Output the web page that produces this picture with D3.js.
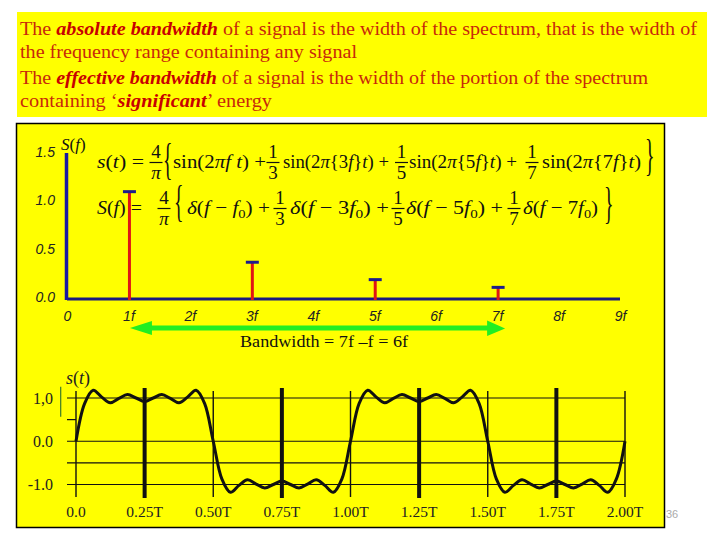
<!DOCTYPE html>
<html><head><meta charset="utf-8">
<script src="https://cdn.jsdelivr.net/npm/d3@7"></script>
<style>html,body{margin:0;padding:0;background:#fff;} svg{display:block}</style>
</head><body>
<script>
// ---------- data ----------
const topLines = [
  [["The ",0],["absolute bandwidth",1],[" of a signal is the width of the spectrum, that is the width of",0]],
  [["the frequency range containing any signal",0]],
  [["The ",0],["effective bandwidth",1],[" of a signal is the width of the portion of the spectrum",0]],
  [["containing \u2018",0],["significant",1],["\u2019 energy",0]]
];
const freqTicks = [0,1,2,3,4,5,6,7,8,9];
const freqTickLabels = ["0","1f","2f","3f","4f","5f","6f","7f","8f","9f"];
const ampTicks = [0, 0.5, 1.0, 1.5];
const harmonics = [1, 3, 5, 7];
const harmonicAmps = [1.10, 0.37, 0.19, 0.11];
const bandwidthLabel = "Bandwidth = 7f \u2013f = 6f";
const timeTicks = [0, 0.25, 0.5, 0.75, 1, 1.25, 1.5, 1.75, 2];
const timeTickLabels = ["0.0","0.25T","0.50T","0.75T","1.00T","1.25T","1.50T","1.75T","2.00T"];
const levelTicks = [-1, -0.5, 0, 0.5, 1];
const levelLabelVals = [1, 0, -1];
const levelLabels = ["1,0", "0.0", "-1.0"];
const signalStep = 1/32; // sample spacing in T
const signalVals = [
  0, 0.87, 1.18, 1.02, 0.89, 0.99, 1.08, 1.00, 0.92, 1.00, 1.08, 0.99, 0.89, 1.02, 1.18, 0.87,
  0, -0.87, -1.18, -1.02, -0.89, -0.99, -1.08, -1.00, -0.92, -1.00, -1.08, -0.99, -0.89, -1.02, -1.18, -0.87,
  0, 0.87, 1.18, 1.02, 0.89, 0.99, 1.08, 1.00, 0.92, 1.00, 1.08, 0.99, 0.89, 1.02, 1.18, 0.87,
  0, -0.87, -1.18, -1.02, -0.89, -0.99, -1.08, -1.00, -0.92, -1.00, -1.08, -0.99, -0.89, -1.02, -1.18, -0.87,
  0
];

// ---------- drawing ----------
const SERIF = "'Liberation Serif','Times New Roman',serif";
const SANS = "'Liberation Sans',Arial,sans-serif";
const svg = d3.select("body").append("svg").attr("width",720).attr("height",540);
svg.append("rect").attr("width",720).attr("height",540).attr("fill","#fff");

// top text box
svg.append("rect").attr("x",17).attr("y",12).attr("width",690).attr("height",105).attr("fill","#ffff00");
const lineBase = [35, 58, 83.5, 107];
const lineWidth = [677, 337, 628, 252];
topLines.forEach((segs,i)=>{
  const t = svg.append("text").attr("x",20).attr("y",lineBase[i])
    .attr("font-family",SERIF).attr("font-size",18.5)
    .attr("textLength",lineWidth[i]).attr("lengthAdjust","spacingAndGlyphs");
  segs.forEach(([s,b])=>{
    const ts = t.append("tspan").text(s);
    if(b){ ts.attr("font-style","italic").attr("font-weight","bold").attr("fill","#c80000"); }
    else ts.attr("fill","#c8280a");
  });
});

// main panel
svg.append("rect").attr("x",16.5).attr("y",123.5).attr("width",648).attr("height",404)
  .attr("fill","#ffff00").attr("stroke","#000").attr("stroke-width",1.5);

// ----- spectrum -----
const fx = d3.scaleLinear([0,9],[67,620]);
const fy = d3.scaleLinear([0,1.5],[298,153]);

const xAx = svg.append("g").attr("transform","translate(0,299)")
  .call(d3.axisBottom(fx).tickValues(freqTicks).tickFormat((d,i)=>freqTickLabels[i]).tickSize(0).tickPadding(12));
xAx.select(".domain").remove();
xAx.selectAll("text").attr("font-family",SANS).attr("font-style","italic").attr("font-size",14).attr("fill","#222");

const yAx = svg.append("g").attr("transform","translate(66,-1)")
  .call(d3.axisLeft(fy).tickValues(ampTicks).tickFormat(d3.format(".1f")).tickSize(0).tickPadding(11));
yAx.select(".domain").remove();
yAx.selectAll("text").attr("font-family",SANS).attr("font-style","italic").attr("font-size",14).attr("fill","#222");

// S(f) axis label
const sfl = svg.append("text").attr("x",61).attr("y",150).attr("font-family",SERIF).attr("font-size",17).attr("fill","#111");
sfl.append("tspan").attr("font-style","italic").text("S");
sfl.append("tspan").text("(");
sfl.append("tspan").attr("font-style","italic").text("f");
sfl.append("tspan").text(")");

// formulas
const fg = svg.append("g").attr("fill","#111").attr("font-family",SERIF).attr("font-size",19);
function piece(x, y, parts, w){
  const t = fg.append("text").attr("x",x).attr("y",y);
  if(w) t.attr("textLength",w).attr("lengthAdjust","spacingAndGlyphs");
  parts.forEach(([s,k])=>{
    const ts = t.append("tspan").text(s);
    if(k===1) ts.attr("font-style","italic");
    if(k===2) ts.attr("font-size",13).attr("dy",4);
    if(k===3) ts.attr("dy",-4);
  });
}
function frac(cx, ln, num, den, denItalic){
  fg.append("text").attr("x",cx).attr("y",ln-4.5).attr("text-anchor","middle").text(num);
  const d = fg.append("text").attr("x",cx).attr("y",ln+16).attr("text-anchor","middle").text(den);
  if(denItalic) d.attr("font-style","italic");
  fg.append("line").attr("x1",cx-6.5).attr("x2",cx+6.5).attr("y1",ln).attr("y2",ln).attr("stroke","#111").attr("stroke-width",1.2);
}
function brace(x, cy, ch){
  fg.append("text").attr("transform",`translate(${x},${cy+10}) scale(0.45,1)`)
    .attr("font-size",44).attr("font-weight","normal").text(ch);
}
// row 1
piece(97,168,[["s",1],["(",0],["t",1],[") =",0]],47);
frac(156,162.5,"4","\u03c0",true);
brace(163,164,"{");
piece(173,168,[["sin(2",0],["\u03c0",1],["f",1],[" ",0],["t",1],[") +",0]],93);
frac(273,162.5,"1","3");
piece(283,168,[["sin(2",0],["\u03c0",1],["{3",0],["f",1],["}",0],["t",1],[") +",0]],106);
frac(401.5,162.5,"1","5");
piece(409,168,[["sin(2",0],["\u03c0",1],["{5",0],["f",1],["}",0],["t",1],[") +",0]],108);
frac(532,162.5,"1","7");
piece(542,168,[["sin(2",0],["\u03c0",1],["{7",0],["f",1],["}",0],["t",1],[")",0]],99);
brace(645,160,"}");
// row 2
piece(97,214,[["S",1],["(",0],["f",1],[") =",0]],45);
frac(164,208.5,"4","\u03c0",true);
brace(174,206,"{");
piece(187,214,[["\u03b4",1],["(",0],["f",1],[" \u2212 ",0],["f",1],["0",2],[") +",3]],83);
frac(280,208.5,"1","3");
piece(290,214,[["\u03b4",1],["(",0],["f",1],[" \u2212 3",0],["f",1],["0",2],[") +",3]],99);
frac(398,208.5,"1","5");
piece(406,214,[["\u03b4",1],["(",0],["f",1],[" \u2212 5",0],["f",1],["0",2],[") +",3]],97);
frac(514,208.5,"1","7");
piece(523,214,[["\u03b4",1],["(",0],["f",1],[" \u2212 7",0],["f",1],["0",2],[")",3]],75);
brace(604,208,"}");

// axes lines
svg.append("line").attr("x1",fx(0)).attr("x2",fx(9)).attr("y1",fy(0)+1).attr("y2",fy(0)+1)
  .attr("stroke","#1a1a80").attr("stroke-width",3);
svg.append("line").attr("x1",fx(0)-0.5).attr("x2",fx(0)-0.5).attr("y1",fy(1.5)).attr("y2",fy(0)+2)
  .attr("stroke","#1a1aa0").attr("stroke-width",3.5);

// stems
svg.selectAll(".stem").data(harmonics).join("line").attr("class","stem")
  .attr("x1",d=>fx(d)+1).attr("x2",d=>fx(d)+1)
  .attr("y1",fy(0)+2).attr("y2",(d,i)=>fy(harmonicAmps[i]))
  .attr("stroke","#e01515").attr("stroke-width",3);
svg.selectAll(".cap").data(harmonics).join("line").attr("class","cap")
  .attr("x1",d=>fx(d)+1-6.5).attr("x2",d=>fx(d)+1+6.5)
  .attr("y1",(d,i)=>fy(harmonicAmps[i])).attr("y2",(d,i)=>fy(harmonicAmps[i]))
  .attr("stroke","#1c1c8c").attr("stroke-width",3);

// bandwidth arrow
{
  const x0 = fx(harmonics[0])+1.5, x1 = fx(harmonics[3])+8, y = 328;
  const p = d3.path();
  p.moveTo(x0, y); p.lineTo(x0+22, y-7); p.lineTo(x0+22, y-2.5);
  p.lineTo(x1-18, y-2.5); p.lineTo(x1-18, y-7.5); p.lineTo(x1, y+0.5);
  p.lineTo(x1-18, y+8); p.lineTo(x1-18, y+2.5); p.lineTo(x0+22, y+2.5);
  p.lineTo(x0+22, y+7); p.closePath();
  svg.append("path").attr("d",p.toString()).attr("fill","#22ee22");
}
svg.append("text").attr("x",324).attr("y",347).attr("text-anchor","middle")
  .attr("font-family",SERIF).attr("font-size",17).attr("fill","#111")
  .attr("textLength",168).attr("lengthAdjust","spacingAndGlyphs").text(bandwidthLabel);

// ----- time signal -----
const tx = d3.scaleLinear([0,2],[76,625]);
const ty = d3.scaleLinear([-1,1],[484.5,398]);
const tg = svg.append("g");
tg.selectAll(".hl").data(levelTicks).join("line").attr("class","hl")
  .attr("x1",tx(0)-9).attr("x2",d=>d===0.5?tx(0):tx(2))
  .attr("y1",d=>ty(d)).attr("y2",d=>ty(d)).attr("stroke","#111").attr("stroke-width",1.2);
tg.selectAll(".vl").data(timeTicks).join("line").attr("class","vl")
  .attr("x1",d=>tx(d)).attr("x2",d=>tx(d))
  .attr("y1",d=>(d*4)%2===1?388:391).attr("y2",d=>(d*4)%2===1?498:497)
  .attr("stroke","#111").attr("stroke-width",d=>(d*4)%2===1?4:1.4);
tg.append("path").datum(signalVals)
  .attr("d",d3.line().x((d,i)=>tx(i*signalStep)).y(d=>ty(d)).curve(d3.curveCatmullRom))
  .attr("fill","none").attr("stroke","#111").attr("stroke-width",3);
tg.selectAll(".yl").data(levelLabelVals).join("text").attr("class","yl")
  .attr("x",53).attr("y",d=>ty(d)).attr("dy","0.35em").attr("text-anchor","end")
  .attr("font-family",SERIF).attr("font-size",16).attr("fill","#222").text((d,i)=>levelLabels[i]);
tg.selectAll(".xl").data(timeTicks).join("text").attr("class","xl")
  .attr("x",d=>tx(d)).attr("y",517).attr("text-anchor","middle")
  .attr("font-family",SERIF).attr("font-size",15.5).attr("fill","#222").text((d,i)=>timeTickLabels[i]);
const stl = svg.append("text").attr("x",66).attr("y",384).attr("font-family",SERIF).attr("font-size",18).attr("fill","#222");
stl.append("tspan").attr("font-style","italic").text("s");
stl.append("tspan").text("(");
stl.append("tspan").attr("font-style","italic").text("t");
stl.append("tspan").text(")");
svg.append("line").attr("x1",60.7).attr("x2",60.7).attr("y1",386.7).attr("y2",416.7)
  .attr("stroke","#3a7a2a").attr("stroke-width",1.2);

// page number
svg.append("text").attr("x",666).attr("y",518).attr("font-family",SANS).attr("font-size",11)
  .attr("fill","#aaa").text("36");
</script>
</body></html>
